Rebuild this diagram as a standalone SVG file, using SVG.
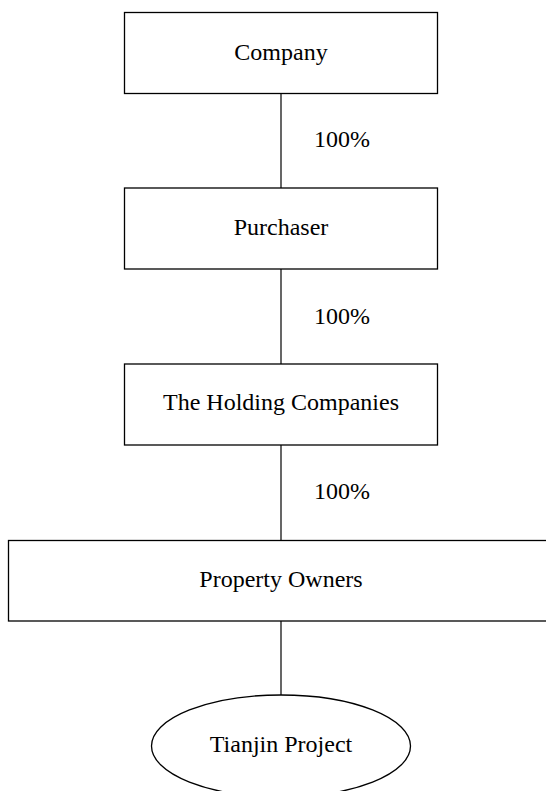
<svg xmlns="http://www.w3.org/2000/svg" width="546" height="791" viewBox="0 0 546 791">
<style>
.box{fill:#fff;stroke:#000;stroke-width:1.3}
.lbl{font-family:"Liberation Serif","Times New Roman",serif;font-size:24px;fill:#000}
.c{text-anchor:middle}
.conn line{stroke:#000;stroke-width:1.2}
</style>
<rect width="546" height="791" fill="#fff"/>
<g id="connectors" class="conn">
<line x1="281" y1="93.5" x2="281" y2="188"/>
<line x1="281" y1="269" x2="281" y2="364"/>
<line x1="281" y1="445" x2="281" y2="540.5"/>
<line x1="281" y1="621" x2="281" y2="695"/>
<text class="lbl" x="314" y="147">100%</text>
<text class="lbl" x="314" y="323.5">100%</text>
<text class="lbl" x="314" y="498.5">100%</text>
</g>
<g id="company">
<rect class="box" x="124.5" y="12.5" width="313" height="81"/>
<text class="lbl c" x="281" y="60">Company</text>
</g>
<g id="purchaser">
<rect class="box" x="124.5" y="188" width="313" height="81"/>
<text class="lbl c" x="281" y="234.5">Purchaser</text>
</g>
<g id="holding">
<rect class="box" x="124.5" y="364" width="313" height="81"/>
<text class="lbl c" x="281" y="410">The Holding Companies</text>
</g>
<g id="owners">
<rect class="box" x="8.5" y="540.5" width="560" height="80.5"/>
<text class="lbl c" x="281" y="587">Property Owners</text>
</g>
<g id="tianjin">
<ellipse class="box" cx="281" cy="746" rx="129.5" ry="51"/>
<text class="lbl c" x="281" y="752">Tianjin Project</text>
</g>
</svg>
